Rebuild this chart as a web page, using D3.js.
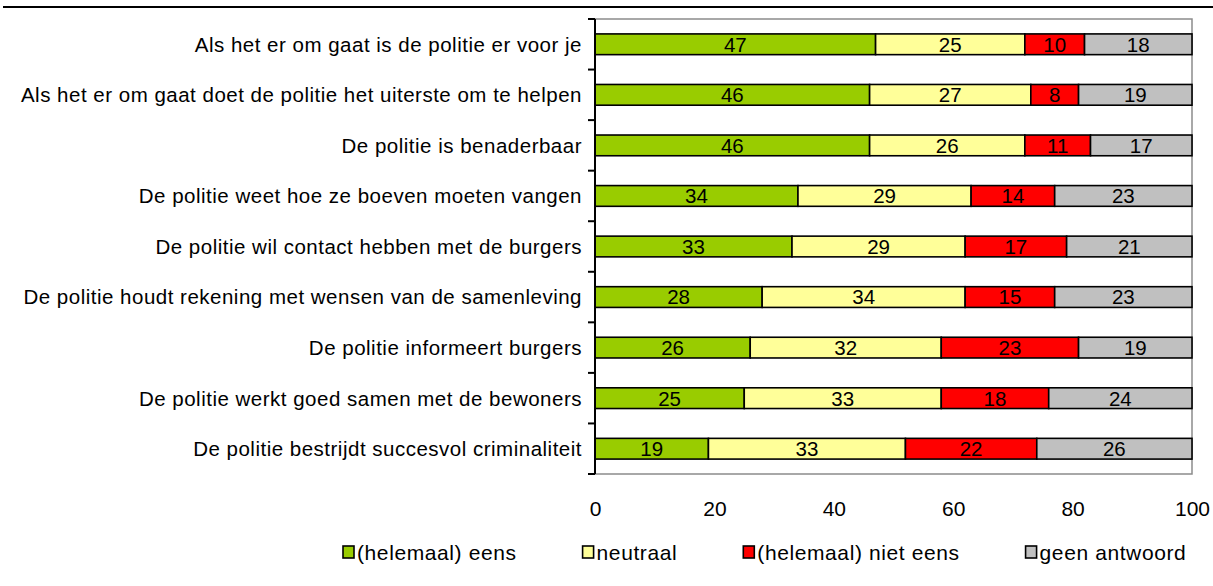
<!DOCTYPE html>
<html>
<head>
<meta charset="utf-8">
<script src="https://cdn.jsdelivr.net/npm/d3@7"></script>
<style>
  html, body { margin: 0; padding: 0; background: #fff; }
  svg { display: block; font-family: "Liberation Sans", Arial, sans-serif; }
</style>
</head>
<body>
<svg id="chart" width="1213" height="586"></svg>
<script>
// Statements about the police, share of respondents per answer (%)
const categories = [
  "Als het er om gaat is de politie er voor je",
  "Als het er om gaat doet de politie het uiterste om te helpen",
  "De politie is benaderbaar",
  "De politie weet hoe ze boeven moeten vangen",
  "De politie wil contact hebben met de burgers",
  "De politie houdt rekening met wensen van de samenleving",
  "De politie informeert burgers",
  "De politie werkt goed samen met de bewoners",
  "De politie bestrijdt succesvol criminaliteit"
];
const seriesNames = ["(helemaal) eens", "neutraal", "(helemaal) niet eens", "geen antwoord"];
const eens       = [47, 46, 46, 34, 33, 28, 26, 25, 19];
const neutraal   = [25, 27, 26, 29, 29, 34, 32, 33, 33];
const nietEens   = [10,  8, 11, 14, 17, 15, 23, 18, 22];
const geenAntw   = [18, 19, 17, 23, 21, 23, 19, 24, 26];
const xTicks = [0, 20, 40, 60, 80, 100];

const colors = ["#99CC00", "#FFFF99", "#FF0000", "#C0C0C0"];
const seriesValues = [eens, neutraal, nietEens, geenAntw];

const svg = d3.select("#chart");
const plot = { left: 595, right: 1192, top: 19, bottom: 474 };

const x = d3.scaleLinear().domain([0, 100]).range([plot.left, plot.right]);
const y = d3.scaleBand().domain(categories).range([plot.top, plot.bottom])
  .paddingInner(0.59).paddingOuter(0.295);

// rule across the top of the page
svg.append("line")
  .attr("x1", 3).attr("x2", 1213).attr("y1", 7).attr("y2", 7)
  .attr("stroke", "#000").attr("stroke-width", 2.2);

// plot frame: grey top, right and bottom edges
svg.append("path")
  .attr("d", `M${plot.left},${plot.top}H${plot.right}V${plot.bottom}H${plot.left}`)
  .attr("fill", "none").attr("stroke", "#8c8c8c").attr("stroke-width", 1.5);

// stacked rows
const rows = categories.map((c, i) => {
  let acc = 0;
  return seriesValues.map((vals, s) => {
    const seg = { cat: c, s, v: vals[i], x0: acc, x1: acc + vals[i] };
    acc += vals[i];
    return seg;
  });
});

const segs = rows.flat();
const g = svg.append("g");
g.selectAll("rect.seg").data(segs).join("rect")
  .attr("class", "seg")
  .attr("x", d => x(d.x0))
  .attr("y", d => y(d.cat))
  .attr("width", d => x(d.x1) - x(d.x0))
  .attr("height", y.bandwidth())
  .attr("fill", d => colors[d.s])
  .attr("stroke", "#000")
  .attr("stroke-width", 1.6);

g.selectAll("text.val").data(segs).join("text")
  .attr("class", "val")
  .attr("x", d => (x(d.x0) + x(d.x1)) / 2)
  .attr("y", d => y(d.cat) + y.bandwidth() / 2)
  .attr("dy", "0.36em")
  .attr("text-anchor", "middle")
  .attr("font-size", 20.5)
  .attr("fill", "#000")
  .text(d => d.v);

// category axis on the left, ticks at the band boundaries
const yAxisG = svg.append("g");
yAxisG.append("line")
  .attr("x1", plot.left).attr("x2", plot.left)
  .attr("y1", plot.top).attr("y2", plot.bottom)
  .attr("stroke", "#000").attr("stroke-width", 2);
const bounds = d3.range(categories.length + 1).map(i => plot.top + i * (plot.bottom - plot.top) / categories.length);
yAxisG.selectAll("line.tick").data(bounds).join("line")
  .attr("class", "tick")
  .attr("x1", plot.left - 7).attr("x2", plot.left)
  .attr("y1", d => d).attr("y2", d => d)
  .attr("stroke", "#000").attr("stroke-width", 2);
yAxisG.selectAll("text.cat").data(categories).join("text")
  .attr("class", "cat")
  .attr("x", plot.left - 13)
  .attr("y", d => y(d) + y.bandwidth() / 2)
  .attr("dy", "0.36em")
  .attr("text-anchor", "end")
  .attr("font-size", 20.5)
  .attr("letter-spacing", 0.5)
  .attr("fill", "#000")
  .text(d => d);

// value axis labels below the plot
const xAxis = d3.axisBottom(x).tickValues(xTicks).tickSize(0).tickPadding(0).tickFormat(d3.format("d"));
const xAxisG = svg.append("g")
  .attr("transform", `translate(0, ${plot.bottom + 27})`)
  .call(xAxis);
xAxisG.select(".domain").remove();
xAxisG.selectAll("text")
  .attr("font-size", 21)
  .attr("font-family", "Liberation Sans, Arial, sans-serif")
  .attr("fill", "#000");

// legend
const legend = svg.append("g").attr("transform", "translate(343, 552)");
let lx = 0;
seriesNames.forEach((name, i) => {
  const item = legend.append("g").attr("transform", `translate(${lx},0)`);
  item.append("rect")
    .attr("x", 0).attr("y", -6).attr("width", 11).attr("height", 12)
    .attr("fill", colors[i]).attr("stroke", "#000").attr("stroke-width", 1.6);
  const t = item.append("text")
    .attr("x", 14).attr("y", 0).attr("dy", "0.36em")
    .attr("font-size", 21).attr("letter-spacing", 0.6).attr("fill", "#000")
    .text(name);
  lx += 14 + t.node().getComputedTextLength() + 66;
});
</script>
</body>
</html>
